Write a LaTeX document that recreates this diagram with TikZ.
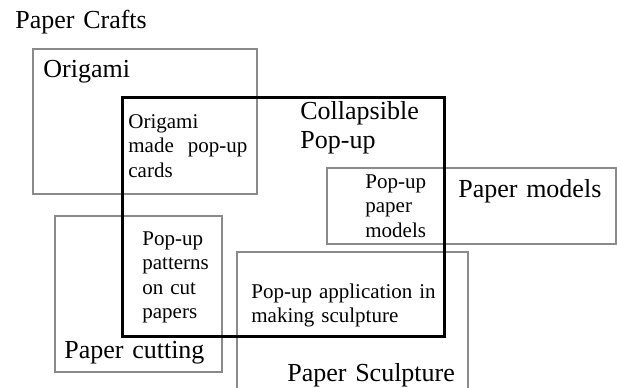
\documentclass[tikz,border=0pt]{standalone}
\usepackage{fontspec}
\setmainfont{Liberation Serif}
\usetikzlibrary{positioning}
\definecolor{boxgray}{HTML}{8A8A8A}

\begin{document}
\begin{tikzpicture}[
            x=0.5pt, y=-0.5pt,
            craft/.style={draw=boxgray, line width=1pt},
            popup/.style={draw=black, line width=1.5pt},
            big/.style={font=\fontsize{13}{14.5}\selectfont, inner sep=0pt, anchor=base west, text width=120pt},
            small/.style={font=\fontsize{10.5}{12.25}\selectfont, inner sep=0pt, anchor=base west, text width=70pt}
        ]
        \clip (0,0) rectangle (617,387);

        % Sets
        \draw[craft] (33,49) rectangle (257,194);
        \draw[craft] (327,168) rectangle (616,244);
        \draw[craft] (55,216) rectangle (222,372);
        \draw[craft] (237,252) rectangle (468,400);
        \draw[popup] (122,97) rectangle (444,336);

        % Set names
        \node[big] (crafts) at (15,28) {Paper Crafts};
        \node[big] (origami) at (43,77) {Origami};
        \node[big] (collapsible) at (300,119) {Collapsible\\Pop-up};
        \node[big] (models) at (458,197) {Paper models};
        \node[big] (cutting) at (64,358) {Paper cutting};
        \node[big] (sculpture) at (287,381) {Paper Sculpture};

        % Overlaps
        \node[small, text width=59.5pt] (popcards) at (128,128) {Origami\\made\hfill pop-up\\cards};
        \node[small] (popmodels) at (365,188) {Pop-up\\paper\\models};
        \node[small] (poppatterns) at (142,245) {Pop-up\\patterns\\on cut\\papers};
        \node[small, text width=100pt] (popsculpt) at (251,298) {Pop-up application in\\making sculpture};

    \end{tikzpicture}
\end{document}
